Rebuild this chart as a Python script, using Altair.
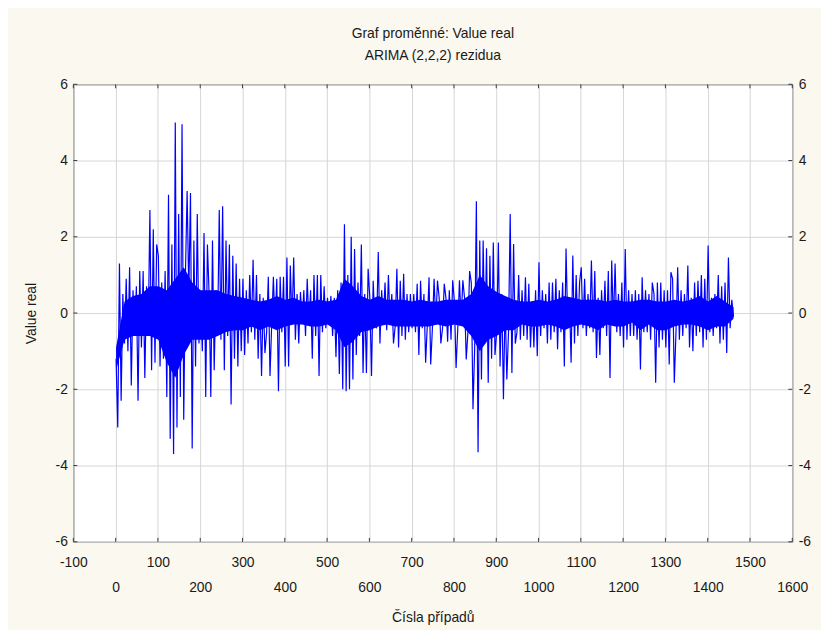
import altair as alt
import pandas as pd

# ---- data (residuals, one value every 4 cases) ----
CASE_START = 1
CASE_STEP = 4

seg_0000 = [-1.2, -3.0, 1.3, -2.3, 0.5, -0.8, 0.9, -1.0, 1.2, -1.9, 0.6, -0.6, 0.7,
            -2.3, 1.1, -0.9, 1.1, -1.7, 0.7, -0.5, 2.7, -1.5, 2.2, -1.3, 1.8]
seg_0100 = [1.5, -1.4, 0.8, -1.2, 1.1, -2.2, 3.1, -3.3, 1.8, -3.7, 5.0, -3.0, 2.6,
            -2.2, 4.95, -2.8, 1.0, 3.2, 0.5, 3.15, -3.55, 1.9, -1.4, 2.6, -0.8]
seg_0200 = [0.3, -1.0, 2.1, -2.2, 1.8, 0.5, -2.2, 1.9, -1.5, 0.6, -0.6, 2.7, -0.7,
            2.8, -1.5, 1.9, -0.6, 1.8, -2.4, 1.5, -1.2, 1.3, -1.4, 0.9, -1.0]
seg_0300 = [0.9, -1.1, 0.6, -0.8, 1.0, -0.5, 1.4, -0.7, 1.0, -1.2, 0.5, -1.65, 0.4,
            -1.05, -0.5, 0.95, -1.65, -0.3, 0.95, -0.4, 0.9, -2.05, 0.95, -0.5, 0.95]
seg_0400 = [-1.4, 1.46, -1.4, 1.25, -0.3, 1.46, -0.7, 0.5, -0.8, 0.55, -0.2, 0.6, -0.6,
            0.9, -0.3, 0.6, -1.2, 1.0, -0.6, 1.0, -1.65, 1.0, -0.5, 0.7, -0.4]
seg_0500 = [0.4, -0.3, 0.45, -0.6, 0.4, -1.15, 0.6, -1.6, 0.8, -2.0, 2.33, -2.05, 1.0,
            -2.0, 2.0, -1.74, 1.68, -1.1, 0.8, -0.6, 1.8, -1.57, 0.5, -1.57, 1.16]
seg_0600 = [0.4, -1.65, 0.85, -0.3, -0.4, 1.6, -0.8, 0.6, -0.2, 0.8, -0.45, 1.0, -0.3,
            0.5, -0.8, -0.35, 1.16, -0.9, 0.85, -0.6, 1.03, -0.7, 0.5, -0.5, 0.5]
seg_0700 = [-0.4, 0.5, -0.5, 0.77, -1.1, 0.85, -0.4, 0.5, -1.3, -0.3, 0.94, -1.35, -0.4,
            0.9, -0.3, 0.85, 0.4, -0.8, -0.4, 0.77, 0.4, -0.75, 0.6, -0.7, 0.86]
seg_0800 = [0.3, -1.44, -0.4, 0.86, -0.2, 0.86, 0.4, -1.22, -0.5, 1.1, 0.8, -2.52, -0.9,
            2.93, -3.65, 1.9, -1.74, 1.9, -0.8, 1.7, -1.83, 1.5, -1.2, 1.85, -1.1]
seg_0900 = [-0.5, 1.85, -1.4, 0.5, -2.26, 0.3, -1.74, -0.5, 2.6, -1.57, 1.81, -0.8, -0.5,
            1.0, -0.7, 0.6, -0.6, 0.94, -0.7, 0.77, -0.9, 0.3, -0.9, 0.6, -1.13]
seg_1000 = [1.33, -0.6, 0.6, -0.4, 0.5, -0.8, 0.8, -0.7, 0.8, -0.5, 0.9, -0.95, 0.6,
            -0.5, 0.8, -1.4, 1.69, -0.3, 0.4, -1.3, 1.51, -0.8, 1.0, -0.6, 0.8]
seg_1100 = [1.2, -0.4, 0.9, -0.6, 0.5, -0.4, 1.38, -0.5, 1.1, -1.18, 0.4, -1.1, 0.6,
            -0.4, 0.85, -0.6, 1.1, -1.7, 1.38, -0.3, 1.3, -0.5, 0.5, -0.6, 0.8]
seg_1200 = [-0.9, 1.68, -0.7, 0.6, -0.6, 0.5, -0.6, 0.6, -0.7, 0.5, -1.48, 0.94, -0.5,
            0.6, -0.5, 0.5, -0.7, 0.8, 0.5, -1.83, 0.8, -0.9, 0.8, -0.7, 0.6]
seg_1300 = [-0.9, 0.6, -1.35, 1.07, 0.9, -1.83, -0.5, 1.2, -0.7, 0.6, -0.6, 0.5, -0.4,
            1.25, -0.9, 0.4, -1.0, 0.8, -0.6, 0.85, -0.5, 1.0, -0.9, 0.9, -0.7]
seg_1400 = [1.77, -0.5, 0.4, -0.6, 0.5, -0.4, 1.0, -0.8, 0.7, -0.7, 0.8, -1.05, 1.46,
            -0.4, 0.35, -0.1]

values = (seg_0000 + seg_0100 + seg_0200 + seg_0300 + seg_0400 + seg_0500 + seg_0600
          + seg_0700 + seg_0800 + seg_0900 + seg_1000 + seg_1100 + seg_1200 + seg_1300
          + seg_1400)
cases = [CASE_START + CASE_STEP * i for i in range(len(values))]

# ---- the solid core of the trace (dense oscillation), read every 20 cases ----
BAND_STEP = 20
band_upper = [-0.9, 0.3, 0.45, 0.5, 0.7, 0.7, 0.6, 0.9, 1.2, 0.8,
              0.6, 0.6, 0.6, 0.5, 0.45, 0.4, 0.35, 0.3, 0.35, 0.45,
              0.35, 0.4, 0.3, 0.3, 0.35, 0.3, 0.35, 0.9, 0.7, 0.45,
              0.35, 0.45, 0.35, 0.35, 0.35, 0.3, 0.35, 0.3, 0.3, 0.35,
              0.35, 0.35, 0.5, 1.0, 0.7, 0.55, 0.45, 0.35, 0.3, 0.3,
              0.35, 0.3, 0.35, 0.45, 0.4, 0.35, 0.35, 0.35, 0.3, 0.35,
              0.3, 0.3, 0.35, 0.35, 0.3, 0.3, 0.35, 0.3, 0.35, 0.45,
              0.3, 0.45, 0.3, 0.15]
band_lower = [-1.5, -0.7, -0.6, -0.6, -0.6, -0.7, -1.3, -1.7, -1.1, -0.7,
              -0.7, -0.7, -0.6, -0.5, -0.45, -0.45, -0.35, -0.45, -0.35, -0.45,
              -0.35, -0.3, -0.3, -0.35, -0.35, -0.3, -0.45, -0.9, -0.75, -0.5,
              -0.45, -0.35, -0.3, -0.35, -0.35, -0.35, -0.35, -0.35, -0.3, -0.35,
              -0.3, -0.35, -0.6, -1.0, -0.7, -0.6, -0.45, -0.45, -0.3, -0.35,
              -0.35, -0.3, -0.35, -0.45, -0.35, -0.3, -0.35, -0.45, -0.3, -0.35,
              -0.35, -0.25, -0.45, -0.3, -0.45, -0.45, -0.35, -0.3, -0.3, -0.35,
              -0.45, -0.35, -0.35, -0.15]
band_cases = [CASE_START + BAND_STEP * i for i in range(len(band_upper))]

x_ticks = [-100, 0, 100, 200, 300, 400, 500, 600, 700, 800, 900, 1000, 1100, 1200,
           1300, 1400, 1500, 1600]
y_ticks = [-6, -4, -2, 0, 2, 4, 6]

title_lines = ["Graf proměnné: Value real", "ARIMA (2,2,2) rezidua"]
x_title = "Čísla případů"
y_title = "Value real"

df = pd.DataFrame({"case": cases, "value": values})
bdf = pd.DataFrame({"case": band_cases, "hi": band_upper, "lo": band_lower})
xt = pd.DataFrame({"v": x_ticks})
yt = pd.DataFrame({"v": y_ticks})

W, H = 726, 462
FONT = "Arial"
TXT = "#1a1a1a"
FRAME = "#3a3a3a"
GRID = "#d6d6d6"
BLUE = "#0000ff"

xscale = alt.Scale(domain=[-100, 1600], nice=False, zero=False)
yscale = alt.Scale(domain=[-6, 6], nice=False, zero=False)

x_axis = alt.Axis(
    values=x_ticks, title=x_title, grid=True, gridColor=GRID, gridWidth=1,
    ticks=False, tickSize=0, domain=False,
    labelExpr="datum.value % 200 == 0 ? ['', toString(datum.value)] : toString(datum.value)",
    labelLineHeight=25, labelPadding=14, labelFlush=False, labelOverlap=False,
    labelBound=False, labelFontSize=14, labelFont=FONT, labelColor=TXT,
    titleFontSize=14, titleFont=FONT, titleFontWeight="normal", titleColor=TXT,
    titlePadding=16)

band = alt.Chart(bdf).mark_area(color=BLUE, opacity=1).encode(
    x=alt.X("case:Q", scale=xscale, axis=x_axis),
    y=alt.Y("hi:Q", scale=yscale, axis=alt.Axis(
        values=y_ticks, title=y_title, orient="left", grid=True, gridColor=GRID,
        gridWidth=1, ticks=False, tickSize=0, domain=False, labelPadding=6,
        labelExpr="toString(datum.value)",
        labelFontSize=14, labelFont=FONT, labelColor=TXT, labelFlush=False,
        titleFontSize=14, titleFont=FONT, titleFontWeight="normal", titleColor=TXT,
        titlePadding=17)),
    y2="lo:Q",
)

line = alt.Chart(df).mark_line(color=BLUE, strokeWidth=1.2).encode(
    x=alt.X("case:Q", scale=xscale, axis=None),
    y=alt.Y("value:Q", scale=yscale, axis=alt.Axis(
        values=y_ticks, title=None, orient="right", grid=False, ticks=False,
        tickSize=0, domain=False, labelPadding=6, labelFontSize=14, labelFont=FONT,
        labelExpr="toString(datum.value)",
        labelColor=TXT, labelFlush=False)),
)

right_ticks = alt.Chart(yt).mark_rule(color=FRAME, strokeWidth=1).encode(
    y=alt.Y("v:Q", scale=yscale, axis=None),
    x=alt.value(W - 4), x2=alt.value(W),
)
left_ticks = alt.Chart(yt).mark_rule(color=FRAME, strokeWidth=1).encode(
    y=alt.Y("v:Q", scale=yscale, axis=None),
    x=alt.value(0), x2=alt.value(4),
)
top_ticks = alt.Chart(xt).mark_rule(color=FRAME, strokeWidth=1).encode(
    x=alt.X("v:Q", scale=xscale, axis=None),
    y=alt.value(0), y2=alt.value(4),
)
bottom_ticks = alt.Chart(xt).mark_rule(color=FRAME, strokeWidth=1).encode(
    x=alt.X("v:Q", scale=xscale, axis=None),
    y=alt.value(H - 4), y2=alt.value(H),
)

chart = alt.layer(band, line, right_ticks, left_ticks, top_ticks, bottom_ticks).resolve_axis(
    x="independent", y="independent"
).properties(
    width=W, height=H,
    title=alt.TitleParams(title_lines, fontSize=14, fontWeight="normal", font=FONT,
                          color=TXT, lineHeight=22, offset=15, anchor="middle"),
    autosize=alt.AutoSizeParams(type="none"),
    padding={"left": 66, "top": 74, "right": 29, "bottom": 86},
    background="#fbf8ef",
).configure_view(
    fill="white", stroke=FRAME, strokeWidth=1
)

chart.save("out.html", embed_options={"renderer": "svg", "actions": False})
